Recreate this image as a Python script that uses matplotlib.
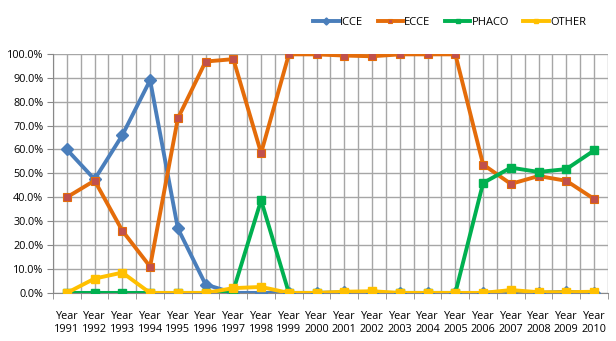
import matplotlib
matplotlib.use("Agg")
import matplotlib.pyplot as plt
import numpy as np

years = [str(y) for y in range(1991, 2011)]
tick_labels = ["Year\n" + y for y in years]
icce = [60.0, 47.5, 66.0, 89.0, 27.0, 3.5, 0.0, 0.0, 0.0, 0.0, 0.3, 0.0, 0.0, 0.0, 0.0, 0.0, 0.5, 0.0, 0.5, 0.0]
ecce = [40.0, 47.0, 26.0, 11.0, 73.0, 96.8, 97.8, 58.5, 99.8, 99.8, 99.3, 99.0, 99.8, 99.8, 99.8, 53.7, 45.6, 48.9, 46.9, 39.3]
phaco = [0.0, 0.0, 0.0, 0.0, 0.0, 0.0, 1.0, 38.8, 0.0, 0.0, 0.0, 0.0, 0.0, 0.0, 0.0, 46.0, 52.4, 50.6, 51.8, 59.6]
other = [0.0, 6.0, 8.5, 0.0, 0.0, 0.0, 2.0, 2.5, 0.0, 0.0, 0.5, 0.7, 0.0, 0.0, 0.0, 0.0, 1.2, 0.3, 0.3, 0.5]
series_names = ["ICCE", "ECCE", "PHACO", "OTHER"]

plt.rcParams['font.family'] = ['Open Sans', 'DejaVu Sans']

fig = plt.figure(figsize=(6.16, 3.41), dpi=100)
ax = fig.add_axes([0.086, 0.141, 0.901, 0.701])

x = np.arange(len(years))
lw = 2.8
ax.plot(x, icce, color="#4A7EBB", lw=lw, marker="D", ms=6, mfc="#4A7EBB", mec="#4A7EBB", label=series_names[0], zorder=3)
ax.plot(x, ecce, color="#E46C0A", lw=lw, marker="s", ms=5.5, mfc="#C0504D", mec="#E46C0A", mew=0.8, label=series_names[1], zorder=3)
ax.plot(x, phaco, color="#00B050", lw=lw, marker="s", ms=5.5, mfc="#00B050", mec="#00B050", label=series_names[2], zorder=3)
ax.plot(x, other, color="#FFC000", lw=lw, marker="s", ms=5.5, mfc="#FFC000", mec="#FFC000", label=series_names[3], zorder=3)

ax.set_xlim(-0.5, len(years) - 0.5)
ax.set_ylim(0, 100)
ax.set_yticks(np.arange(0, 101, 10))
ax.set_yticklabels([f"{v:.1f}%" for v in np.arange(0, 101, 10)], fontsize=7.8)
ax.set_xticks(x)
ax.set_xticklabels(tick_labels, fontsize=7.8, linespacing=1.3)
ax.set_xticks(np.arange(-0.5, len(years), 1.0), minor=True)
ax.tick_params(axis='x', which='major', length=0, pad=13)
ax.tick_params(axis='x', which='minor', length=4, color="#888888")
ax.tick_params(axis='y', length=4, color="#888888", pad=3)

ax.grid(True, axis='y', color="#A6A6A6", lw=1.0, zorder=0)
for gx in np.arange(-0.5, len(years), 0.5):
    ax.axvline(gx, color="#A6A6A6", lw=1.0, zorder=0)

ax.spines["top"].set_visible(False)
ax.spines["right"].set_visible(False)
ax.spines["left"].set_color("#888888")
ax.spines["bottom"].set_color("#888888")

leg = fig.legend(loc="center", bbox_to_anchor=(0.73, 0.935), ncol=4, frameon=False,
                 fontsize=8, handlelength=2.3, columnspacing=1.3, handletextpad=0.1,
                 markerscale=0.6)
plt.savefig("out.png", dpi=100)
